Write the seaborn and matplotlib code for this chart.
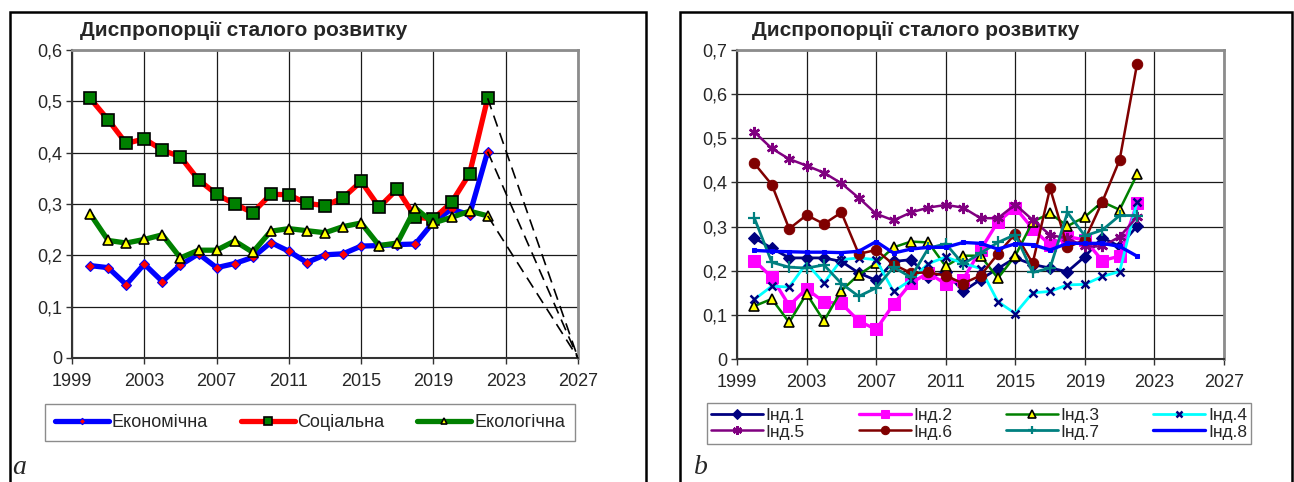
import matplotlib
matplotlib.use("Agg")
import matplotlib.pyplot as plt
from matplotlib.patches import Rectangle
from matplotlib.ticker import FuncFormatter, MultipleLocator
import seaborn as sns
import numpy as np

sns.set_style("white")
plt.rcParams['font.family'] = ['Liberation Sans', 'DejaVu Sans']

years = list(range(2000, 2023))
x_ticks = [1999, 2003, 2007, 2011, 2015, 2019, 2023, 2027]
proj_year = 2027
proj_value = 0.0

econ = [0.180, 0.176, 0.143, 0.183, 0.149, 0.181, 0.203, 0.176, 0.184, 0.196, 0.225, 0.208,
        0.186, 0.201, 0.203, 0.218, 0.219, 0.221, 0.222, 0.265, 0.290, 0.279, 0.402]
social = [0.506, 0.464, 0.418, 0.427, 0.405, 0.392, 0.347, 0.319, 0.300, 0.283, 0.319, 0.318,
          0.301, 0.297, 0.312, 0.344, 0.294, 0.329, 0.274, 0.271, 0.303, 0.359, 0.506]
ecol = [0.281, 0.229, 0.224, 0.231, 0.240, 0.195, 0.210, 0.210, 0.228, 0.206, 0.247, 0.252,
        0.248, 0.244, 0.256, 0.263, 0.219, 0.224, 0.292, 0.263, 0.274, 0.286, 0.277]

ind1 = [0.274, 0.251, 0.229, 0.229, 0.229, 0.221, 0.195, 0.178, 0.221, 0.225, 0.186, 0.197,
        0.153, 0.180, 0.205, 0.229, 0.214, 0.206, 0.198, 0.232, 0.275, 0.255, 0.301]
ind2 = [0.223, 0.185, 0.121, 0.159, 0.129, 0.126, 0.086, 0.067, 0.124, 0.172, 0.195, 0.170,
        0.180, 0.247, 0.311, 0.343, 0.295, 0.258, 0.277, 0.270, 0.223, 0.233, 0.353]
ind3 = [0.120, 0.136, 0.083, 0.148, 0.086, 0.155, 0.191, 0.217, 0.253, 0.266, 0.264, 0.210,
        0.234, 0.234, 0.183, 0.234, 0.311, 0.330, 0.301, 0.322, 0.356, 0.338, 0.418]
ind4 = [0.135, 0.165, 0.163, 0.217, 0.172, 0.225, 0.229, 0.225, 0.153, 0.179, 0.216, 0.231,
        0.217, 0.205, 0.130, 0.103, 0.150, 0.153, 0.168, 0.169, 0.187, 0.198, 0.356]
ind5 = [0.514, 0.477, 0.453, 0.438, 0.422, 0.398, 0.365, 0.329, 0.314, 0.332, 0.343, 0.349,
        0.343, 0.319, 0.319, 0.350, 0.315, 0.281, 0.273, 0.255, 0.255, 0.277, 0.322]
ind6 = [0.443, 0.395, 0.295, 0.326, 0.306, 0.332, 0.238, 0.247, 0.214, 0.195, 0.196, 0.189,
        0.171, 0.189, 0.238, 0.284, 0.217, 0.387, 0.253, 0.270, 0.356, 0.451, 0.668]
ind7 = [0.319, 0.219, 0.208, 0.206, 0.213, 0.171, 0.142, 0.161, 0.208, 0.185, 0.251, 0.261,
        0.215, 0.240, 0.264, 0.282, 0.196, 0.206, 0.332, 0.279, 0.292, 0.325, 0.325]
ind8 = [0.246, 0.244, 0.243, 0.242, 0.242, 0.241, 0.244, 0.266, 0.240, 0.249, 0.253, 0.253,
        0.264, 0.262, 0.249, 0.261, 0.259, 0.247, 0.262, 0.262, 0.262, 0.255, 0.233]

title = "Диспропорції сталого розвитку"
left_names = ["Економічна", "Соціальна", "Екологічна"]
right_names = ["Інд.1", "Інд.2", "Інд.3", "Інд.4", "Інд.5", "Інд.6", "Інд.7", "Інд.8"]

W, H = 1294, 482
fig = plt.figure(figsize=(W / 100, H / 100), dpi=100)


def fx(px):
    return px / W


def fy(py):
    return 1 - py / H


def comma_fmt(v, pos):
    if abs(v) < 1e-9:
        return "0"
    return f"{v:.1f}".replace(".", ",")


def style_axes(ax, ymax):
    ax.set_xlim(1999, 2027)
    ax.set_ylim(0, ymax)
    ax.set_xticks(x_ticks)
    ax.yaxis.set_major_locator(MultipleLocator(0.1))
    ax.yaxis.set_major_formatter(FuncFormatter(comma_fmt))
    ax.grid(True, color="#1a1a1a", linewidth=0.9)
    ax.set_axisbelow(True)
    for s in ["top", "right"]:
        ax.spines[s].set_color("#8c8c8c")
        ax.spines[s].set_linewidth(2.0)
    for s in ["left", "bottom"]:
        ax.spines[s].set_color("#333333")
        ax.spines[s].set_linewidth(1.5)
    ax.tick_params(axis="both", direction="out", length=4, width=1, color="#333333",
                   labelsize=13, left=True, bottom=True)
    ax.tick_params(axis="x", pad=7)
    ax.tick_params(axis="y", pad=3)
    ax.set_xlabel("")
    ax.set_ylabel("")


# ---------- panel a ----------
axa = fig.add_axes([fx(72), fy(358), fx(578 - 72), (358 - 50) / H])
left_series = [econ, social, ecol]
left_style = [
    dict(color="#0000ff", linewidth=3.8, marker="D", markersize=5,
         markerfacecolor="#ff0000", markeredgecolor="#0000ff", markeredgewidth=0.8),
    dict(color="#ff0000", linewidth=3.8, marker="s", markersize=8,
         markerfacecolor="#008000", markeredgecolor="#000000", markeredgewidth=1.2),
    dict(color="#008000", linewidth=3.8, marker="^", markersize=7,
         markerfacecolor="#ffff00", markeredgecolor="#000000", markeredgewidth=1.2),
]
for vals, name, st in zip(left_series, left_names, left_style):
    sns.lineplot(x=years, y=vals, ax=axa, label=name, **st)
for vals in left_series:
    axa.plot([years[-1], proj_year], [vals[-1], proj_value], color="black",
             linewidth=1.2, dashes=(7, 4), zorder=5)
style_axes(axa, 0.6)
if axa.get_legend():
    axa.get_legend().remove()
ha, la = axa.get_legend_handles_labels()
leg_a = fig.legend(ha, la, loc="center", ncol=3, mode="expand",
                   bbox_to_anchor=(fx(36), fy(443), fx(584 - 36), (443 - 402) / H),
                   fontsize=13, frameon=True, fancybox=False, edgecolor="#8c8c8c",
                   framealpha=1, handlelength=3.0, handletextpad=0.15, borderpad=0.55,
                   columnspacing=1.0, markerscale=0.65)
leg_a.get_frame().set_linewidth(1.0)

# ---------- panel b ----------
axb = fig.add_axes([fx(737), fy(359), fx(1224 - 737), (359 - 50) / H])
right_series = [ind1, ind2, ind3, ind4, ind5, ind6, ind7, ind8]
right_style = [
    dict(color="#000080", linewidth=2.0, marker="D", markersize=6,
         markerfacecolor="#000080", markeredgecolor="#000080"),
    dict(color="#ff00ff", linewidth=2.4, marker="s", markersize=8,
         markerfacecolor="#ff00ff", markeredgecolor="#ff00ff"),
    dict(color="#008000", linewidth=1.8, marker="^", markersize=7,
         markerfacecolor="#ffff00", markeredgecolor="#000000", markeredgewidth=1.2),
    dict(color="#00ffff", linewidth=2.0, marker="x", markersize=6,
         markerfacecolor="#000080", markeredgecolor="#000080", markeredgewidth=1.8),
    dict(color="#800080", linewidth=1.8, marker=(6, 2, 0), markersize=8,
         markerfacecolor="#800080", markeredgecolor="#800080", markeredgewidth=1.8),
    dict(color="#800000", linewidth=1.8, marker="o", markersize=7.5,
         markerfacecolor="#800000", markeredgecolor="#800000"),
    dict(color="#008080", linewidth=2.0, marker="+", markersize=8,
         markerfacecolor="#008080", markeredgecolor="#008080", markeredgewidth=1.6),
    dict(color="#0000ff", linewidth=2.4, marker="s", markersize=2.5,
         markerfacecolor="#0000ff", markeredgecolor="#0000ff"),
]
for vals, name, st in zip(right_series, right_names, right_style):
    sns.lineplot(x=years, y=vals, ax=axb, label=name, **st)
style_axes(axb, 0.7)
if axb.get_legend():
    axb.get_legend().remove()
hb, lb = axb.get_legend_handles_labels()
order = [0, 4, 1, 5, 2, 6, 3, 7]
leg_b = fig.legend([hb[i] for i in order], [lb[i] for i in order], loc="center", ncol=4,
                   mode="expand",
                   bbox_to_anchor=(fx(698), fy(444), fx(1260 - 698), (444 - 403) / H),
                   fontsize=12.5, frameon=True, fancybox=False, edgecolor="#8c8c8c",
                   framealpha=1, handlelength=3.0, handletextpad=0.15, borderpad=0.25,
                   columnspacing=1.0, labelspacing=0.1, markerscale=0.8)
leg_b.get_frame().set_linewidth(1.0)

# titles
fig.text(fx(80), fy(31), title, fontsize=15, fontweight="bold", ha="left", va="center")
fig.text(fx(752), fy(31), title, fontsize=15, fontweight="bold", ha="left", va="center")

# panel frames
for x0, x1 in [(10, 646), (680, 1292)]:
    fig.patches.append(Rectangle((fx(x0), -0.05), fx(x1 - x0), fy(12) + 0.05,
                                 transform=fig.transFigure, fill=False,
                                 edgecolor="black", linewidth=1.8, zorder=0))

fig.text(fx(12), fy(467), "a", fontsize=20, fontstyle="italic",
         family=["Liberation Serif", "DejaVu Serif"], ha="left", va="center")
fig.text(fx(694), fy(467), "b", fontsize=20, fontstyle="italic",
         family=["Liberation Serif", "DejaVu Serif"], ha="left", va="center")

fig.savefig("out.png", dpi=100)
